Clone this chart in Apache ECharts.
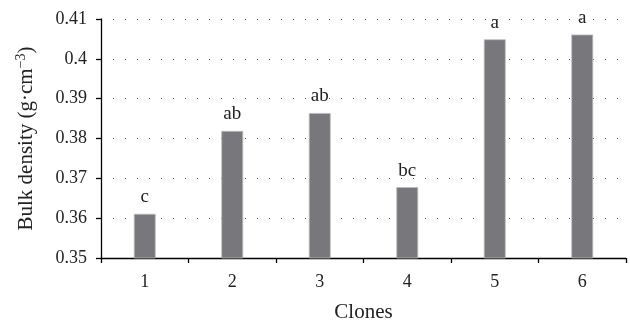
<!DOCTYPE html>
<html><head><meta charset="utf-8">
<script src="https://cdn.jsdelivr.net/npm/echarts@6/dist/echarts.min.js"></script>
<style>html,body{margin:0;padding:0;background:#fff}#c{width:630px;height:322px}</style>
</head><body><div id="c"></div>
<script>
var categories = ['1','2','3','4','5','6'];
var values = [0.3611, 0.3819, 0.3864, 0.3678, 0.4049, 0.4061];
var letters = ['c','ab','ab','bc','a','a'];
var yTicks = [0.35, 0.36, 0.37, 0.38, 0.39, 0.40, 0.41];

var font = '"Liberation Serif", "DejaVu Serif", serif';
var chart = echarts.init(document.getElementById('c'));
chart.setOption({
  animation: false,
  grid: {left: 101, right: 4, top: 19, bottom: 64, containLabel: false, outerBoundsMode: 'none'},
  xAxis: {
    type: 'category', data: categories,
    name: 'Clones', nameLocation: 'middle', nameGap: 44,
    nameTextStyle: {fontFamily: font, fontSize: 21, color: '#222'},
    axisLine: {lineStyle: {color: '#000', width: 1.3}},
    axisTick: {show: true, length: 5, lineStyle: {color: '#000', width: 1.3}},
    axisLabel: {fontFamily: font, fontSize: 18, color: '#222', margin: 15},
    splitLine: {show: false}
  },
  yAxis: {
    type: 'value', min: yTicks[0], max: yTicks[yTicks.length-1], interval: 0.01,
    name: '{t|Bulk density (g·cm}{s|−3}{t|)}', nameLocation: 'middle', nameGap: 63,
    nameTextStyle: {fontFamily: font, fontSize: 21, color: '#222',
      rich: {t: {fontFamily: font, fontSize: 21, color: '#222'},
             s: {fontFamily: font, fontSize: 14, color: '#222', verticalAlign: 'top', padding: [0,0,10,0]}}},
    axisLine: {show: true, lineStyle: {color: '#000', width: 1.3}},
    axisTick: {show: true, length: 5, lineStyle: {color: '#000', width: 1.3}},
    axisLabel: {fontFamily: font, fontSize: 18, color: '#222', margin: 14,
      formatter: function(v){ var r = Math.round(v*100)/100; return String(r); }},
    splitLine: {show: true, lineStyle: {color: '#555', type: [1, 11], width: 1}}
  },
  series: [{
    type: 'bar', data: values, barWidth: '25%',
    itemStyle: {color: '#78777c', borderColor: '#bdbcc0', borderWidth: 0.8},
    label: {show: true, position: 'top', distance: 7,
      fontFamily: font, fontSize: 19, color: '#222',
      formatter: function(p){ return letters[p.dataIndex]; }}
  }]
});
</script></body></html>
